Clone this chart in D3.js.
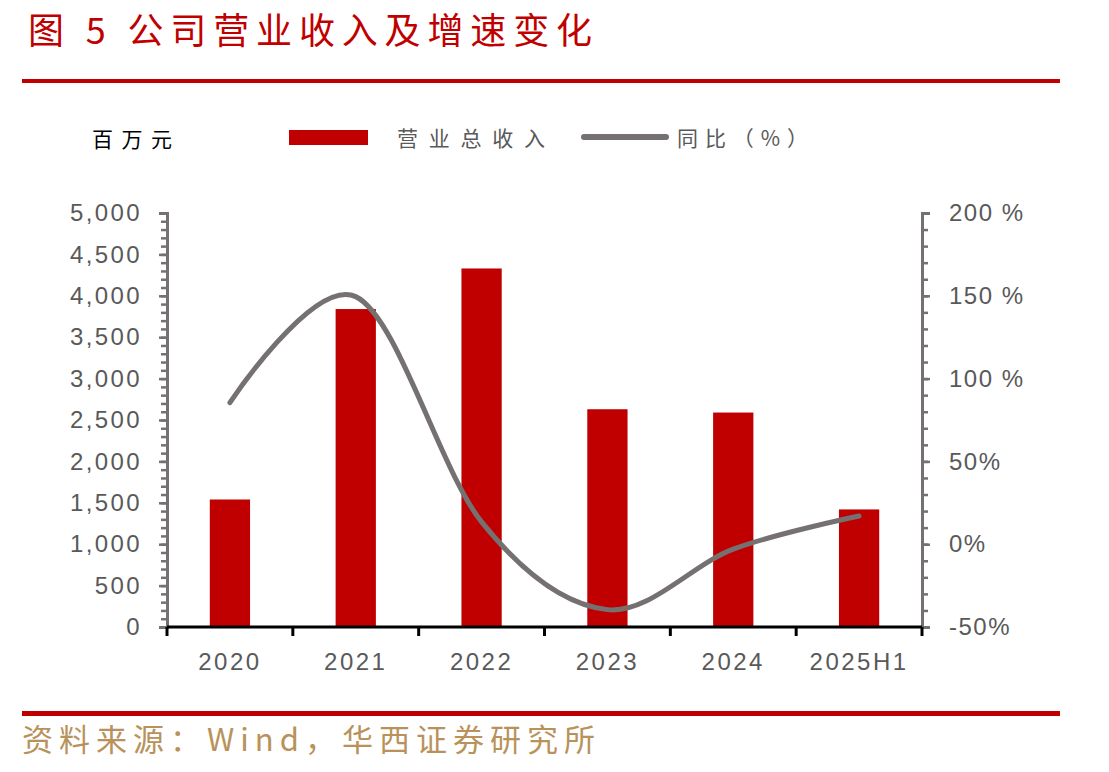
<!DOCTYPE html>
<html>
<head>
<meta charset="utf-8">
<script src="https://cdn.jsdelivr.net/npm/d3@7"></script>
<style>
  body { margin: 0; background: #fff; }
  svg { display: block; }
  .cjk { font-family: "Noto Sans CJK SC", sans-serif; }
</style>
</head>
<body>
<div id="chart"></div>
<script>
// data
const categories = ['2020', '2021', '2022', '2023', '2024', '2025H1'];
const revenue = [1540, 3840, 4330, 2630, 2590, 1420];   // 百万元
const yoy = [85.5, 149.5, 13.5, -39.5, -3, 17];          // %
const leftTicks = [0, 500, 1000, 1500, 2000, 2500, 3000, 3500, 4000, 4500, 5000];
const rightTicks = [-50, 0, 50, 100, 150, 200];
const rightLabels = ['-50%', '0%', '50%', '100 %', '150 %', '200 %'];

const W = 1109, H = 772;
const plot = { left: 167, right: 922, top: 213, bottom: 627 };
const red = '#c00000', grey = '#767171', textGrey = '#595959';
const numFont = '"Liberation Sans", Arial, sans-serif';

const svg = d3.select('#chart').append('svg')
    .attr('width', W)
    .attr('height', H);

// title + rules
svg.append('text').attr('class', 'cjk')
    .attr('x', 28).attr('y', 44)
    .attr('font-size', 36).attr('fill', red)
    .attr('textLength', 564).attr('lengthAdjust', 'spacing')
    .text('图 5 公司营业收入及增速变化');
svg.append('rect').attr('x', 22).attr('y', 79).attr('width', 1038).attr('height', 4).attr('fill', red);
svg.append('rect').attr('x', 22).attr('y', 711).attr('width', 1038).attr('height', 5).attr('fill', red);

svg.append('text').attr('class', 'cjk')
    .attr('x', 22).attr('y', 751)
    .attr('font-size', 31).attr('fill', '#b8925a')
    .attr('textLength', 573).attr('lengthAdjust', 'spacing')
    .text('资料来源：Wind，华西证券研究所');

// scales
const x = d3.scaleBand()
    .domain(categories)
    .range([plot.left, plot.right])
    .paddingInner(0.68)
    .paddingOuter(0.34);
const yL = d3.scaleLinear().domain([0, 5000]).range([plot.bottom, plot.top]);
const yR = d3.scaleLinear().domain([-50, 200]).range([plot.bottom, plot.top]);

// legend
svg.append('text').attr('class', 'cjk')
    .attr('x', 92).attr('y', 147).attr('font-size', 21).attr('fill', '#000')
    .attr('textLength', 80).attr('lengthAdjust', 'spacing')
    .text('百万元');
svg.append('rect').attr('x', 289).attr('y', 130).attr('width', 79).attr('height', 15).attr('fill', red);
svg.append('text').attr('class', 'cjk')
    .attr('x', 397).attr('y', 146).attr('font-size', 21).attr('fill', textGrey)
    .attr('textLength', 148).attr('lengthAdjust', 'spacing')
    .text('营业总收入');
svg.append('line').attr('x1', 584).attr('x2', 666).attr('y1', 137).attr('y2', 137)
    .attr('stroke', grey).attr('stroke-width', 6).attr('stroke-linecap', 'round');
svg.append('text').attr('class', 'cjk')
    .attr('x', 677).attr('y', 146).attr('font-size', 21).attr('fill', textGrey)
    .attr('textLength', 131).attr('lengthAdjust', 'spacing')
    .text('同比（%）');

// bars
svg.append('g').selectAll('rect')
    .data(revenue)
    .join('rect')
    .attr('x', (d, i) => x(categories[i]))
    .attr('y', d => yL(d))
    .attr('width', x.bandwidth())
    .attr('height', d => yL(0) - yL(d))
    .attr('fill', red);

// left axis: major with labels + minor every 100
const minorL = d3.range(0, 5001, 100);
svg.append('g').attr('transform', `translate(${plot.left},0)`)
    .call(d3.axisLeft(yL).tickValues(minorL).tickSize(6).tickFormat(''))
    .call(g => g.selectAll('line, path').attr('stroke', grey).attr('stroke-width', 2.5));
const axL = svg.append('g').attr('transform', `translate(${plot.left},0)`)
    .call(d3.axisLeft(yL).tickValues(leftTicks).tickSize(8).tickPadding(17).tickFormat(d3.format(',')));
axL.select('.domain').attr('stroke', grey).attr('stroke-width', 3);
axL.selectAll('line').attr('stroke', grey).attr('stroke-width', 2.5);
axL.selectAll('text').attr('font-size', 24).attr('letter-spacing', 2.4)
    .attr('fill', textGrey).attr('font-family', numFont);

// right axis: major with labels + minor every 10
const minorR = d3.range(-50, 201, 10);
svg.append('g').attr('transform', `translate(${plot.right},0)`)
    .call(d3.axisRight(yR).tickValues(minorR).tickSize(6).tickFormat(''))
    .call(g => g.selectAll('line, path').attr('stroke', grey).attr('stroke-width', 2.5));
const axR = svg.append('g').attr('transform', `translate(${plot.right},0)`)
    .call(d3.axisRight(yR).tickValues(rightTicks).tickSize(8).tickPadding(19)
        .tickFormat((d, i) => rightLabels[i]));
axR.select('.domain').attr('stroke', grey).attr('stroke-width', 3);
axR.selectAll('line').attr('stroke', grey).attr('stroke-width', 2.5);
axR.selectAll('text').attr('font-size', 24).attr('letter-spacing', 1.5)
    .attr('fill', textGrey).attr('font-family', numFont);

// x axis: black baseline, ticks on band boundaries, labels centred
const gap = (x.step() - x.bandwidth()) / 2;
const bounds = categories.map(c => x(c) - gap).concat([x(categories[categories.length - 1]) + x.bandwidth() + gap]);
const gx = svg.append('g');
gx.append('line')
    .attr('x1', plot.left).attr('x2', plot.right)
    .attr('y1', yL(0)).attr('y2', yL(0))
    .attr('stroke', '#000').attr('stroke-width', 3);
gx.selectAll('.bt').data(bounds).join('line').attr('class', 'bt')
    .attr('x1', d => d).attr('x2', d => d)
    .attr('y1', yL(0)).attr('y2', yL(0) + 9)
    .attr('stroke', '#000').attr('stroke-width', 3);
const axX = svg.append('g').attr('transform', `translate(0,${yL(0)})`)
    .call(d3.axisBottom(x).tickSize(0).tickPadding(26));
axX.select('.domain').remove();
axX.selectAll('text').attr('font-size', 24).attr('letter-spacing', 2.5)
    .attr('fill', textGrey).attr('font-family', numFont);

// yoy line, smoothed like the spreadsheet curve
const line = d3.line()
    .x((d, i) => x(categories[i]) + x.bandwidth() / 2)
    .y(d => yR(d))
    .curve(d3.curveCardinal.tension(0));
svg.append('path')
    .datum(yoy)
    .attr('d', line)
    .attr('fill', 'none')
    .attr('stroke', grey)
    .attr('stroke-width', 5)
    .attr('stroke-linecap', 'round');
</script>
</body>
</html>
